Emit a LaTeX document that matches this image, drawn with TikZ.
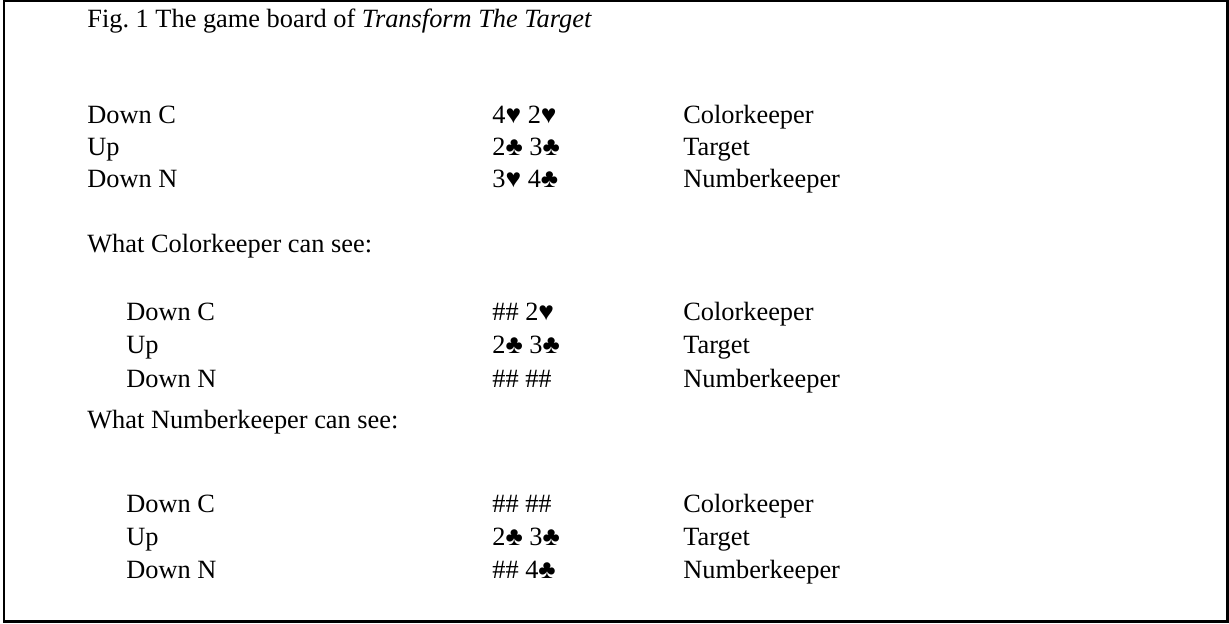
\documentclass[tikz,border=0pt]{standalone}
\usepackage{fontspec}
\setmainfont{Liberation Serif}
\usepackage{tikz}

\begin{document}
\fontsize{15}{18}\selectfont
\begin{tikzpicture}[scale=1]
		\tikzstyle{cell}=[anchor=base west,inner sep=0pt]

		\useasboundingbox (0,0) rectangle (24.58,12.46);
		\draw[line width=1.2pt] (0.08,0.03) rectangle (24.55,12.44);

		\node[cell] (title) at (1.74,11.9) {Fig.\ 1 The game board of \textit{Transform The Target}};

		% full board
		\node[cell] (dc) at (1.74,9.98) {Down C};
		\node[cell] (up) at (1.74,9.34) {Up};
		\node[cell] (dn) at (1.74,8.7) {Down N};
		\node[cell] (dccards) at (9.84,9.98) {4♥ 2♥};
		\node[cell] (upcards) at (9.84,9.34) {2♣ 3♣};
		\node[cell] (dncards) at (9.84,8.7) {3♥ 4♣};
		\node[cell] (dcname) at (13.66,9.98) {Colorkeeper};
		\node[cell] (upname) at (13.66,9.34) {Target};
		\node[cell] (dnname) at (13.66,8.7) {Numberkeeper};

		% colorkeeper view
		\node[cell] (ckhead) at (1.74,7.42) {What Colorkeeper can see:};
		\node[cell] (ckdc) at (2.52,6.04) {Down C};
		\node[cell] (ckup) at (2.52,5.38) {Up};
		\node[cell] (ckdn) at (2.52,4.72) {Down N};
		\node[cell] (ckdccards) at (9.84,6.04) {\#\# 2♥};
		\node[cell] (ckupcards) at (9.84,5.38) {2♣ 3♣};
		\node[cell] (ckdncards) at (9.84,4.72) {\#\# \#\#};
		\node[cell] (ckdcname) at (13.66,6.04) {Colorkeeper};
		\node[cell] (ckupname) at (13.66,5.38) {Target};
		\node[cell] (ckdnname) at (13.66,4.72) {Numberkeeper};

		% numberkeeper view
		\node[cell] (nkhead) at (1.74,3.88) {What Numberkeeper can see:};
		\node[cell] (nkdc) at (2.52,2.22) {Down C};
		\node[cell] (nkup) at (2.52,1.56) {Up};
		\node[cell] (nkdn) at (2.52,0.9) {Down N};
		\node[cell] (nkdccards) at (9.84,2.22) {\#\# \#\#};
		\node[cell] (nkupcards) at (9.84,1.56) {2♣ 3♣};
		\node[cell] (nkdncards) at (9.84,0.9) {\#\# 4♣};
		\node[cell] (nkdcname) at (13.66,2.22) {Colorkeeper};
		\node[cell] (nkupname) at (13.66,1.56) {Target};
		\node[cell] (nkdnname) at (13.66,0.9) {Numberkeeper};

		\end{tikzpicture}
\end{document}
